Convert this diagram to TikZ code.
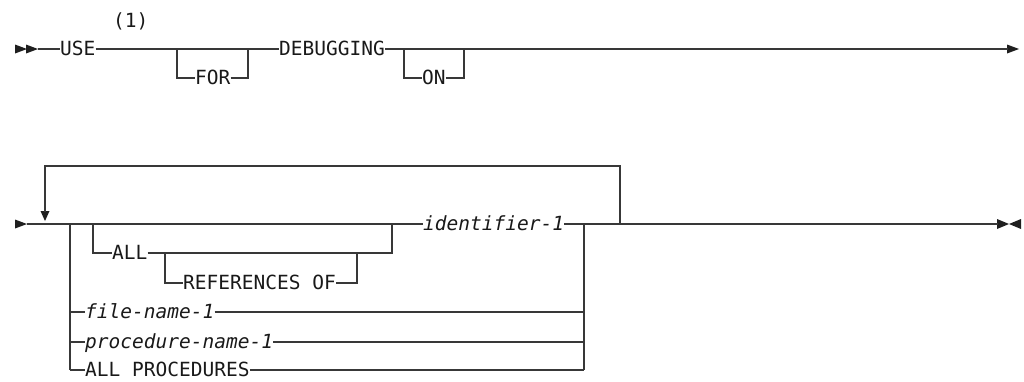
\documentclass[tikz,border=0pt]{standalone}
\usepackage{fontspec}
\setmonofont{DejaVu Sans Mono}
\begin{document}
\begin{tikzpicture}[x=1pt,y=-1pt,
  rr/.style={draw=black!78, line width=1.3pt},
  tip/.style={fill=black!88, draw=none},
  txt/.style={inner sep=0pt, anchor=west, text height=12pt, text depth=0pt,
    font=\ttfamily\fontsize{19.5}{20}\selectfont, text=black!90},
  itxt/.style={txt, font=\ttfamily\itshape\fontsize{19.5}{20}\selectfont}]
\useasboundingbox (0,0) rectangle (1024,381);

% ---------- first line ----------
\coordinate (s1) at (38,49);
\fill[tip] (15,44.5) -- (27,49) -- (15,53.5) -- cycle;
\fill[tip] (26,44.5) -- (38,49) -- (26,53.5) -- cycle;
\node[txt] (note) at (113,21) {(1)};
\node[txt] (use) at (60,49) {USE};
\coordinate (a1) at (177,49);
\coordinate (a2) at (248,49);
\coordinate (a1d) at (177,78);
\coordinate (a2d) at (248,78);
\node[txt] (for) at (195,78) {FOR};
\node[txt] (debug) at (279,49) {DEBUGGING};
\coordinate (b1) at (404,49);
\coordinate (b2) at (464,49);
\coordinate (b1d) at (404,78);
\coordinate (b2d) at (464,78);
\node[txt] (on) at (422,78) {ON};
\coordinate (e1) at (1008,49);
\fill[tip] (1007,44.5) -- (1019,49) -- (1007,53.5) -- cycle;

\draw[rr] (s1) -- (use.west);
\draw[rr] (use.east) -- (a1) -- (a2) -- (debug.west);
\draw[rr] (a1) -- (a1d) -- (for.west);
\draw[rr] (for.east) -- (a2d) -- (a2);
\draw[rr] (debug.east) -- (b1) -- (b2) -- (e1);
\draw[rr] (b1) -- (b1d) -- (on.west);
\draw[rr] (on.east) -- (b2d) -- (b2);

% ---------- second line ----------
\coordinate (s2) at (27,224);
\fill[tip] (15,219.5) -- (27,224) -- (15,228.5) -- cycle;
\coordinate (L1) at (45,166);
\coordinate (L2) at (620,166);
\coordinate (Lr) at (620,224);
\coordinate (Lt) at (45,212);
\fill[tip] (40.5,211) -- (49.5,211) -- (45,221) -- cycle;

\coordinate (c1) at (70,224);
\coordinate (c2) at (70,312);
\coordinate (c3) at (70,342);
\coordinate (c4) at (70,370);
\coordinate (d1) at (93,224);
\coordinate (d1d) at (93,253);
\node[txt] (all) at (112,253) {ALL};
\coordinate (f1) at (165,253);
\coordinate (f1d) at (165,283);
\node[txt] (ref) at (183,283) {REFERENCES OF};
\coordinate (f2d) at (357,283);
\coordinate (f2) at (357,253);
\coordinate (e2d) at (392,253);
\coordinate (e2) at (392,224);
\node[itxt] (ident) at (423,224) {identifier-1};
\coordinate (g1) at (584,224);
\coordinate (g2) at (584,312);
\coordinate (g3) at (584,342);
\coordinate (g4) at (584,370);
\node[itxt] (file) at (85,312) {file-name-1};
\node[itxt] (proc) at (85,342) {procedure-name-1};
\node[txt] (allp) at (85,370) {ALL PROCEDURES};
\coordinate (e3) at (998,224);
\coordinate (h1) at (626,224);
\coordinate (h2) at (649,224);
\fill[tip] (997,219) -- (1009,224) -- (997,229) -- cycle;
\fill[tip] (1021,219) -- (1009,224) -- (1021,229) -- cycle;

\draw[rr] (s2) -- (c1) -- (d1) -- (e2) -- (ident.west);
\draw[rr] (c1) -- (c4);
\draw[rr] (d1) -- (d1d) -- (all.west);
\draw[rr] (all.east) -- (f1) -- (f2) -- (e2d) -- (e2);
\draw[rr] (f1) -- (f1d) -- (ref.west);
\draw[rr] (ref.east) -- (f2d) -- (f2);
\draw[rr] (ident.east) -- (g1) -- (Lr) -- (e3);
\draw[rr] (g1) -- (g4);
\draw[rr] (c2) -- (file.west);
\draw[rr] (file.east) -- (g2);
\draw[rr] (c3) -- (proc.west);
\draw[rr] (proc.east) -- (g3);
\draw[rr] (c4) -- (allp.west);
\draw[rr] (allp.east) -- (g4);
\draw[rr] (Lr) -- (L2) -- (L1) -- (Lt);
\draw[rr, line width=2.6pt] (h1) -- (h2);
\end{tikzpicture}
\end{document}
